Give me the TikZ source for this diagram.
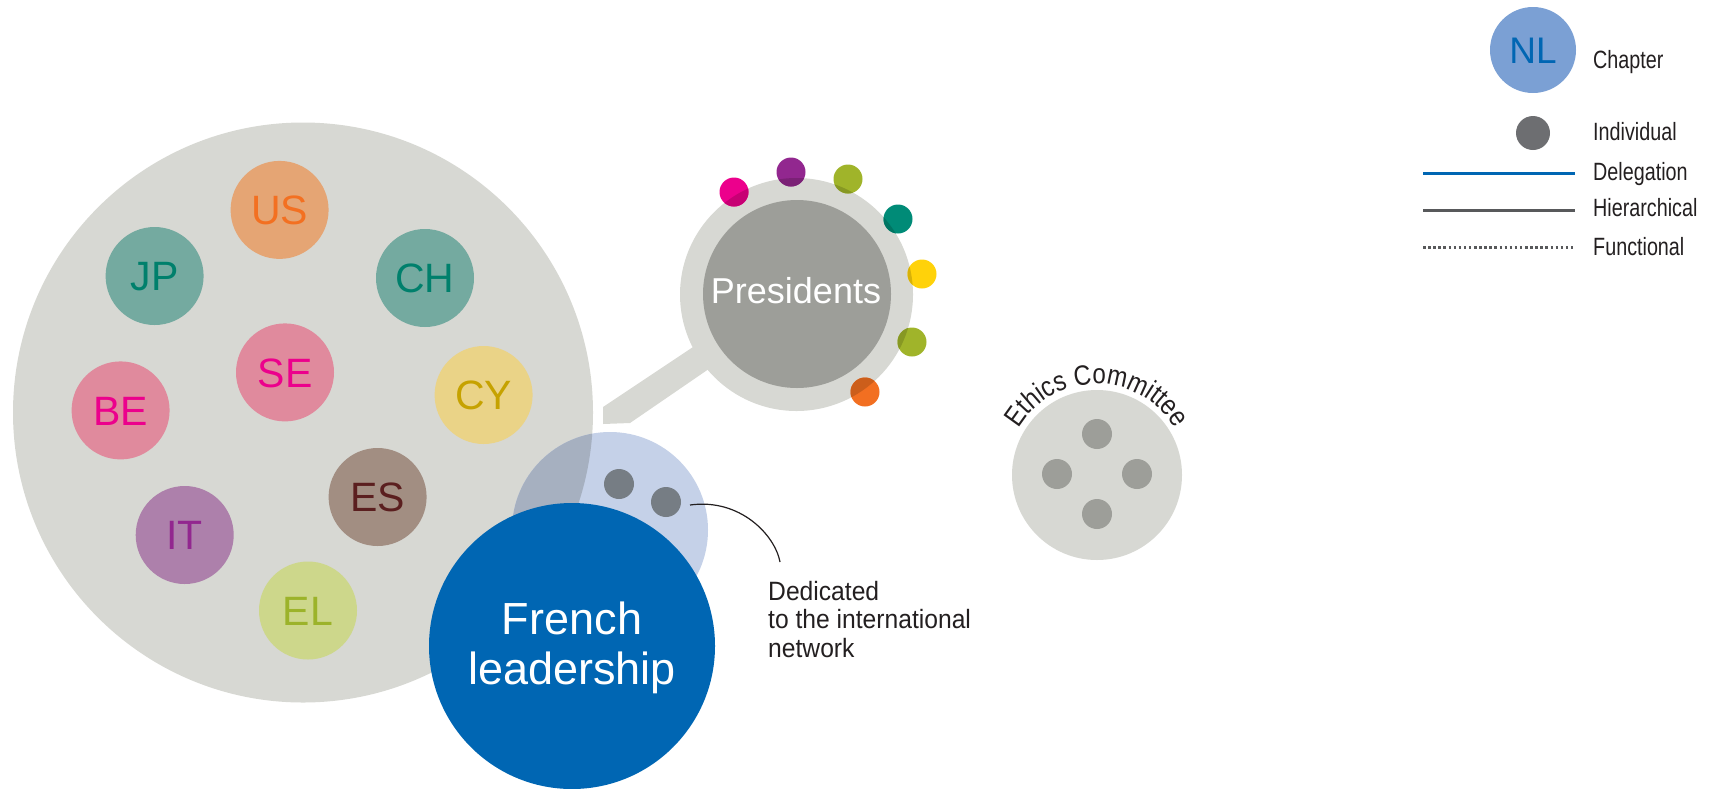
\documentclass[tikz,border=0pt]{standalone}
\usepackage{fontspec}
\setmainfont{Liberation Sans}
\newfontfamily\condf[FakeStretch=0.79]{Liberation Sans}
\newfontfamily\annf[FakeStretch=0.93]{Liberation Sans}
\newfontfamily\ethf[FakeStretch=0.86]{Liberation Sans}
\usetikzlibrary{decorations.text}
\definecolor{bigGrey}{HTML}{D7D8D3}
\definecolor{presDark}{HTML}{9D9E99}
\definecolor{usF}{HTML}{E5A574}\definecolor{usT}{HTML}{F37021}
\definecolor{jpF}{HTML}{74AAA0}\definecolor{jpT}{HTML}{00806C}
\definecolor{seF}{HTML}{E08A9D}\definecolor{seT}{HTML}{EC008C}
\definecolor{cyF}{HTML}{EAD387}\definecolor{cyT}{HTML}{C6A200}
\definecolor{esF}{HTML}{A28E82}\definecolor{esT}{HTML}{5B1F1F}
\definecolor{itF}{HTML}{AD80AB}\definecolor{itT}{HTML}{92278F}
\definecolor{elF}{HTML}{CDD78B}\definecolor{elT}{HTML}{9CB32A}
\definecolor{frBlue}{HTML}{0066B3}
\definecolor{lightBlue}{HTML}{C5D1E8}
\definecolor{overBlue}{HTML}{A6B0C0}
\definecolor{indiv}{HTML}{767D84}
\definecolor{legDot}{HTML}{6D6E71}
\definecolor{nlF}{HTML}{7BA0D4}
\definecolor{lineGrey}{HTML}{58595B}
\definecolor{txt}{HTML}{231F20}
\definecolor{dMag}{HTML}{EC008C}\definecolor{dMagD}{HTML}{C70074}
\definecolor{dPur}{HTML}{92278F}\definecolor{dPurD}{HTML}{7B2176}
\definecolor{dGrn}{HTML}{A0B42A}\definecolor{dGrnD}{HTML}{879823}
\definecolor{dTeal}{HTML}{008B77}\definecolor{dTealD}{HTML}{007563}
\definecolor{dYel}{HTML}{FFD20A}\definecolor{dYelD}{HTML}{D7B108}
\definecolor{dOra}{HTML}{F26F21}\definecolor{dOraD}{HTML}{CC5E1B}
\begin{document}
\begin{tikzpicture}[x=1pt,y=-1pt,
  disc/.style={circle, inner sep=0pt, outer sep=0pt, draw=none},
  country/.style={disc, minimum size=98pt, font=\fontsize{41}{46}\selectfont, text height=29.4pt, text depth=0pt},
  pdot/.style={disc, minimum size=29pt},
  idot/.style={disc, minimum size=30pt, fill=indiv},
  edot/.style={disc, minimum size=30pt, fill=presDark},
  bigtext/.style={inner sep=0pt, text=white},
  condtext/.style={inner sep=0pt, text=txt, font=\condf\fontsize{25}{28.5}\selectfont},
  anntext/.style={inner sep=0pt, text=txt, font=\annf\fontsize{26.5}{28.5}\selectfont},
  legline/.style={line width=3pt}
]
\useasboundingbox (0,0) rectangle (1723,788);

% big chapters circle
\node[disc, fill=bigGrey, minimum size=580pt] (big) at (303,412.5) {};
\node[country, fill=usF, text=usT] (us) at (279.6,209.9) {US};
\node[country, fill=jpF, text=jpT] (jp) at (154.6,276) {JP};
\node[country, fill=jpF, text=jpT] (ch) at (425,278) {CH};
\node[country, fill=seF, text=seT] (se) at (285,372.4) {SE};
\node[country, fill=seF, text=seT] (be) at (120.6,410.4) {BE};
\node[country, fill=cyF, text=cyT] (cy) at (483.6,395) {CY};
\node[country, fill=esF, text=esT] (es) at (377.6,497) {ES};
\node[country, fill=itF, text=itT] (it) at (184.7,535) {IT};
\node[country, fill=elF, text=elT] (el) at (308,610.5) {EL};

% presidents magnifier
\fill[bigGrey] (603,407) -- (720,329) -- (735,351) -- (630,423) -- (603,424) -- cycle;
\node[disc, fill=bigGrey, minimum size=233pt] (ring) at (796.5,294.5) {};
\node[disc, fill=presDark, minimum size=188pt] (pres) at (797,294) {};
\node[bigtext, anchor=base, font=\fontsize{36}{40}\selectfont] (prest) at (796,303) {Presidents};

\node[pdot, fill=dMag] (d1) at (734,192) {};
\node[pdot, fill=dPur] (d2) at (791,172) {};
\node[pdot, fill=dGrn] (d3) at (848,179) {};
\node[pdot, fill=dTeal] (d4) at (898,219) {};
\node[pdot, fill=dYel] (d5) at (922,274) {};
\node[pdot, fill=dGrn] (d6) at (912,342) {};
\node[pdot, fill=dOra] (d7) at (865,392) {};
\begin{scope}
  \clip (ring.center) circle[radius=116.5];
  \fill[dMagD] (d1.center) circle[radius=14.5];
  \fill[dPurD] (d2.center) circle[radius=14.5];
  \fill[dGrnD] (d3.center) circle[radius=14.5];
  \fill[dTealD] (d4.center) circle[radius=14.5];
  \fill[dYelD] (d5.center) circle[radius=14.5];
  \fill[dGrnD] (d6.center) circle[radius=14.5];
  \fill[dOraD] (d7.center) circle[radius=14.5];
\end{scope}

% international network group
\node[disc, fill=lightBlue, minimum size=196pt] (intl) at (610,530) {};
\begin{scope}
  \clip (big.center) circle[radius=290];
  \fill[overBlue] (intl.center) circle[radius=98];
\end{scope}
\node[idot] (i1) at (619,484) {};
\node[idot] (i2) at (666,502) {};

% French leadership
\node[disc, fill=frBlue, minimum size=286pt] (fr) at (572,646) {};
\node[bigtext, anchor=base, font=\fontsize{45}{50}\selectfont] (frt1) at (572,634) {French};
\node[bigtext, anchor=base, font=\fontsize{45}{50}\selectfont] (frt2) at (572,684) {leadership};

% callout
\coordinate (ca) at (690,505);
\coordinate (cb) at (780,562);
\draw[txt, line width=1.2pt] (ca) .. controls (740,498) and (775,535) .. (cb);
\node[anntext, anchor=base west] (ded1) at (768,600) {Dedicated};
\node[anntext, anchor=base west] (ded2) at (768,628.5) {to the international};
\node[anntext, anchor=base west] (ded3) at (768,657) {network};

% ethics committee
\node[disc, fill=bigGrey, minimum size=170pt] (eth) at (1097,475) {};
\node[edot] (e1) at (1097,434) {};
\node[edot] (e2) at (1057,474) {};
\node[edot] (e3) at (1137,474) {};
\node[edot] (e4) at (1097,514) {};
\path[decorate, decoration={text along path, text align=center,
  text={|\ethf\fontsize{28}{30}\selectfont\color{txt}|Ethics Committee}}]
  (eth.center) ++(205:91) arc[start angle=205, end angle=335, radius=91];

% legend
\node[disc, fill=nlF, minimum size=86pt, text=frBlue, font=\fontsize{37}{40}\selectfont, text height=26.5pt, text depth=0pt] (nl) at (1533,50) {NL};
\node[disc, fill=legDot, minimum size=34pt] (ld) at (1533,133) {};
\coordinate (la1) at (1423,173.3); \coordinate (la2) at (1575,173.3);
\coordinate (lb1) at (1423,210.7); \coordinate (lb2) at (1575,210.7);
\coordinate (lc1) at (1423,247.3); \coordinate (lc2) at (1575,247.3);
\draw[legline, frBlue] (la1) -- (la2);
\draw[legline, lineGrey] (lb1) -- (lb2);
\draw[lineGrey, line width=2.5pt, dash pattern=on 2.5pt off 2.6pt] (lc1) -- (lc2);
\node[condtext, anchor=base west] (lt1) at (1593,68) {Chapter};
\node[condtext, anchor=base west] (lt2) at (1593,140) {Individual};
\node[condtext, anchor=base west] (lt3) at (1593,180) {Delegation};
\node[condtext, anchor=base west] (lt4) at (1593,216.7) {Hierarchical};
\node[condtext, anchor=base west] (lt5) at (1593,255) {Functional};
\end{tikzpicture}
\end{document}
